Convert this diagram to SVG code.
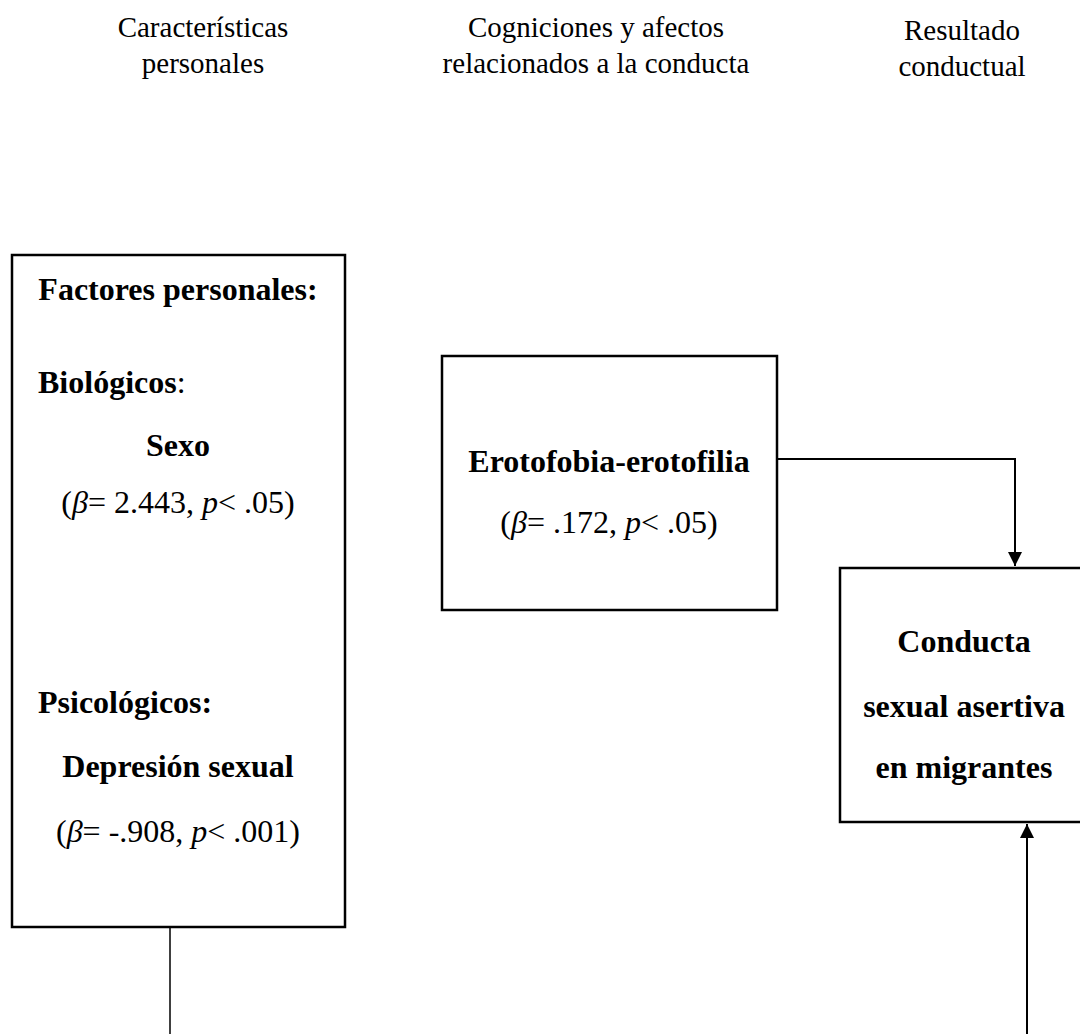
<svg xmlns="http://www.w3.org/2000/svg" width="1080" height="1034" viewBox="0 0 1080 1034">
  <style>
    .hdr { font-family: "Liberation Serif", "Times New Roman", serif; font-size: 29px; fill: #000; text-anchor: middle; }
    .b { font-family: "Liberation Serif", "Times New Roman", serif; font-size: 32px; font-weight: bold; fill: #000; }
    .n { font-family: "Liberation Serif", "Times New Roman", serif; font-size: 32px; fill: #000; }
    .c { text-anchor: middle; }
    .box { fill: #fff; stroke: #000; stroke-width: 2.5; }
    .conn { fill: none; stroke: #000; stroke-width: 2; }
    .i { font-style: italic; }
  </style>
  <defs>
    <marker id="arrow" markerWidth="14" markerHeight="14" refX="14" refY="7" orient="auto" markerUnits="userSpaceOnUse">
      <path d="M0,0 L14,7 L0,14 Z" fill="#000"/>
    </marker>
  </defs>
  <rect width="1080" height="1034" fill="#fff"/>

  <g id="headers">
    <text class="hdr" x="203" y="37">Características</text>
    <text class="hdr" x="203" y="73">personales</text>
    <text class="hdr" x="596" y="37">Cogniciones y afectos</text>
    <text class="hdr" x="596" y="73">relacionados a la conducta</text>
    <text class="hdr" x="962" y="40">Resultado</text>
    <text class="hdr" x="962" y="76">conductual</text>
  </g>

  <g id="connectors">
    <line class="conn" x1="170" y1="927" x2="170" y2="1034" style="stroke-width:1.5"/>
    <path class="conn" d="M777,459 H1015 V566" marker-end="url(#arrow)"/>
    <path class="conn" d="M1027,1034 V824" marker-end="url(#arrow)"/>
  </g>

  <g id="node-factores">
    <rect class="box" x="12" y="255" width="333" height="672"/>
    <text class="b c" x="178" y="300">Factores personales:</text>
    <text class="b" x="38" y="393">Biológicos<tspan style="font-weight:normal">:</tspan></text>
    <text class="b c" x="178" y="456">Sexo</text>
    <text class="n c" x="178" y="513">(<tspan class="i">β</tspan>= 2.443, <tspan class="i">p</tspan>&lt; .05)</text>
    <text class="b" x="38" y="713">Psicológicos:</text>
    <text class="b c" x="178" y="777">Depresión sexual</text>
    <text class="n c" x="178" y="842">(<tspan class="i">β</tspan>= -.908, <tspan class="i">p</tspan>&lt; .001)</text>
  </g>

  <g id="node-erotofobia">
    <rect class="box" x="442" y="356" width="335" height="254"/>
    <text class="b c" x="609" y="472">Erotofobia-erotofilia</text>
    <text class="n c" x="609" y="533">(<tspan class="i">β</tspan>= .172, <tspan class="i">p</tspan>&lt; .05)</text>
  </g>

  <g id="node-conducta">
    <rect class="box" x="840" y="568" width="260" height="254"/>
    <text class="b c" x="964" y="652">Conducta</text>
    <text class="b c" x="964" y="717">sexual asertiva</text>
    <text class="b c" x="964" y="778">en migrantes</text>
  </g>
</svg>
